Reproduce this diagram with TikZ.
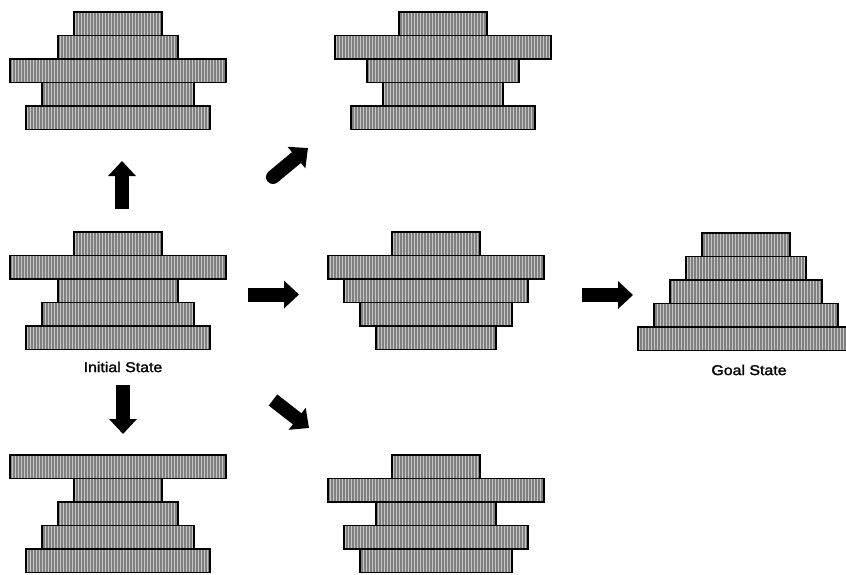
\documentclass[tikz,border=0pt]{standalone}
\usepackage{fontspec}
\setmainfont{Liberation Sans}
\newfontfamily\labelfont[FakeStretch=1.12,FakeBold=1.6]{Liberation Sans}
\usetikzlibrary{arrows.meta,patterns.meta}

\tikzset{
  disk/.style={draw=black, line width=1.3pt,
    preaction={fill=black!50},
    pattern={Lines[angle=90,distance=3pt,line width=0.9pt]},
    pattern color=white!78!black,
    minimum height=23.5pt, inner sep=0pt, outer sep=0pt, anchor=north},
  blockarrow/.style={line width=14pt, draw=black,
    -{Triangle[width=27pt,length=15pt]}},
  statelabel/.style={font=\labelfont\fontsize{14.2}{17}\selectfont, inner sep=0pt}
}

% one stack of disks: name, centre x, top y, disk sizes from top to bottom
\newcommand\drawstack[4]{%
  \foreach \s [count=\r] in {#4} {
    \node[disk, minimum width={(56+32*\s)*1pt}] (#1-\r) at (#2,{#3+23.5*(\r-1)}) {};
  }%
}

\begin{document}
\begin{tikzpicture}[x=1pt,y=-1pt]
  \clip (0,0) rectangle (846,574);
  \fill[white] (0,0) rectangle (846,574);

  % states
  \drawstack{tl}{118}{12}{1,2,5,3,4}
  \drawstack{tm}{443}{12}{1,5,3,2,4}
  \drawstack{init}{118}{232}{1,5,2,3,4}
  \drawstack{mid}{436}{232}{1,5,4,3,2}
  \drawstack{goal}{746}{233}{1,2,3,4,5}
  \drawstack{bl}{118}{455}{5,1,2,3,4}
  \drawstack{bm}{436}{455}{1,5,2,4,3}

  \node[statelabel] (initlbl) at (123,367) {Initial State};
  \node[statelabel] (goallbl) at (749,370) {Goal State};

  % moves
  \coordinate (up0) at (122,209);  \coordinate (up1) at (122,161);
  \coordinate (dn0) at (123,385);  \coordinate (dn1) at (123,434);
  \coordinate (rt0) at (248,294.5);\coordinate (rt1) at (299,294.5);
  \coordinate (gl0) at (582,295);  \coordinate (gl1) at (633,295);
  \coordinate (ur0) at (273,177);  \coordinate (ur1) at (308,148);
  \coordinate (dr0) at (273,400);  \coordinate (dr1) at (309,428);

  \draw[blockarrow] (up0) -- (up1);
  \draw[blockarrow] (dn0) -- (dn1);
  \draw[blockarrow] (rt0) -- (rt1);
  \draw[blockarrow] (gl0) -- (gl1);
  \draw[blockarrow, line cap=round] (ur0) -- (ur1);
  \draw[blockarrow] (dr0) -- (dr1);
\end{tikzpicture}
\end{document}
